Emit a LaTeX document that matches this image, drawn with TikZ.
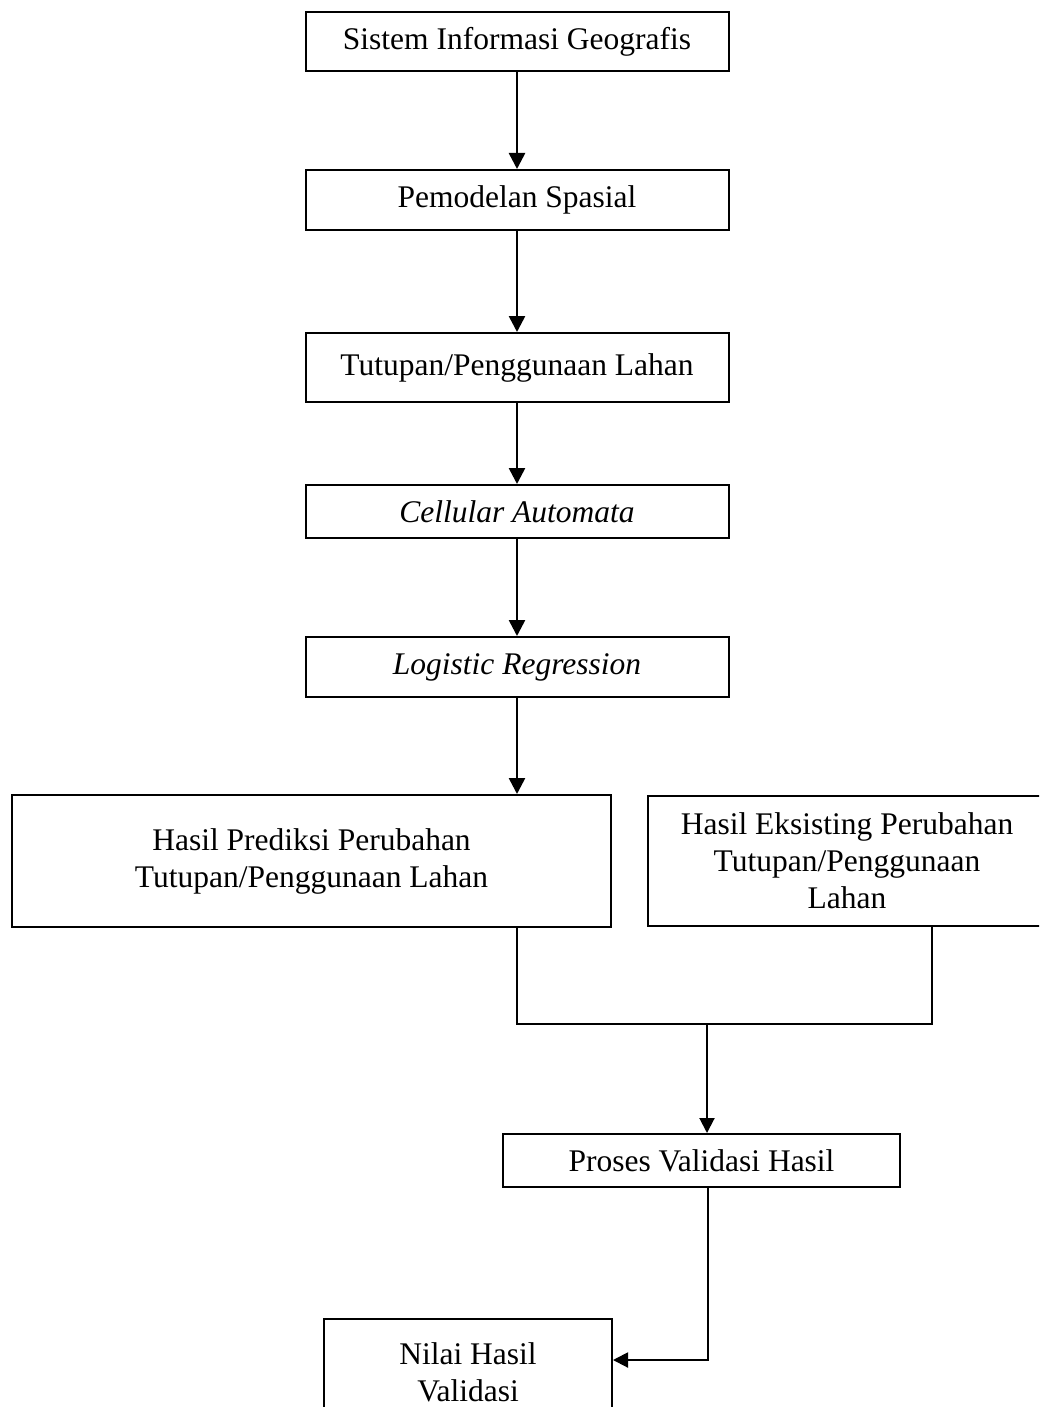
\documentclass[tikz,border=0pt]{standalone}
\usepackage{fontspec}
\setmainfont{Liberation Serif}
\usetikzlibrary{arrows.meta}
\begin{document}
\begin{tikzpicture}[x=1pt,y=-1pt,
  box/.style={draw=black,line width=2pt,fill=white,inner sep=0pt,align=center,
    font=\fontsize{31.5}{37}\selectfont},
  flow/.style={line width=2.6pt,-{Triangle[length=16pt,width=16pt]}},
  conn/.style={line width=2pt},
  connarrow/.style={line width=2pt,-{Triangle[length=15pt,width=15pt]}}]
\useasboundingbox (0,0) rectangle (1039,1407);
\clip (0,0) rectangle (1039,1407);
\fill[white] (0,0) rectangle (1039,1407);

% main column
\node[box,minimum width=423pt,minimum height=59pt] (sig) at (517,41.5) {Sistem Informasi Geografis};
\node[box,minimum width=423pt,minimum height=60pt] (model) at (517,200) {Pemodelan Spasial};
\node[box,minimum width=423pt,minimum height=69pt] (lahan) at (517,367.5) {Tutupan/Penggunaan Lahan};
\node[box,minimum width=423pt,minimum height=53pt] (ca) at (517,511.5) {\itshape Cellular Automata};
\node[box,minimum width=423pt,minimum height=60pt] (lr) at (517,667) {\itshape Logistic Regression};

% results
\node[box,minimum width=599pt,minimum height=132pt] (pred) at (311.5,861) {Hasil Prediksi Perubahan\\Tutupan/Penggunaan Lahan};
\node[box,minimum width=398pt,minimum height=130pt] (eks) at (847,861) {Hasil Eksisting Perubahan\\Tutupan/Penggunaan\\Lahan};

% validation
\node[box,minimum width=397pt,minimum height=53pt] (proses) at (701.5,1160.5) {Proses Validasi Hasil};
\node[box,minimum width=288pt,minimum height=106pt] (nilai) at (468,1372) {Nilai Hasil\\Validasi};

% junction points
\coordinate (jl) at (517,1024);
\coordinate (jr) at (932,1024);
\coordinate (jn) at (707,1024);
\coordinate (bend) at (708,1360);

\draw[flow] (sig) -- (model);
\draw[flow] (model) -- (lahan);
\draw[flow] (lahan) -- (ca);
\draw[flow] (ca) -- (lr);
\draw[flow] (lr) -- (lr.south |- pred.north);

\draw[conn] (pred.south -| jl) -- (jl) -- (jr) -- (eks.south -| jr);
\draw[connarrow] (jn) -- (proses.north -| jn);
\draw[connarrow] (proses.south -| bend) -- (bend) -- (nilai.east |- bend);
\end{tikzpicture}
\end{document}
